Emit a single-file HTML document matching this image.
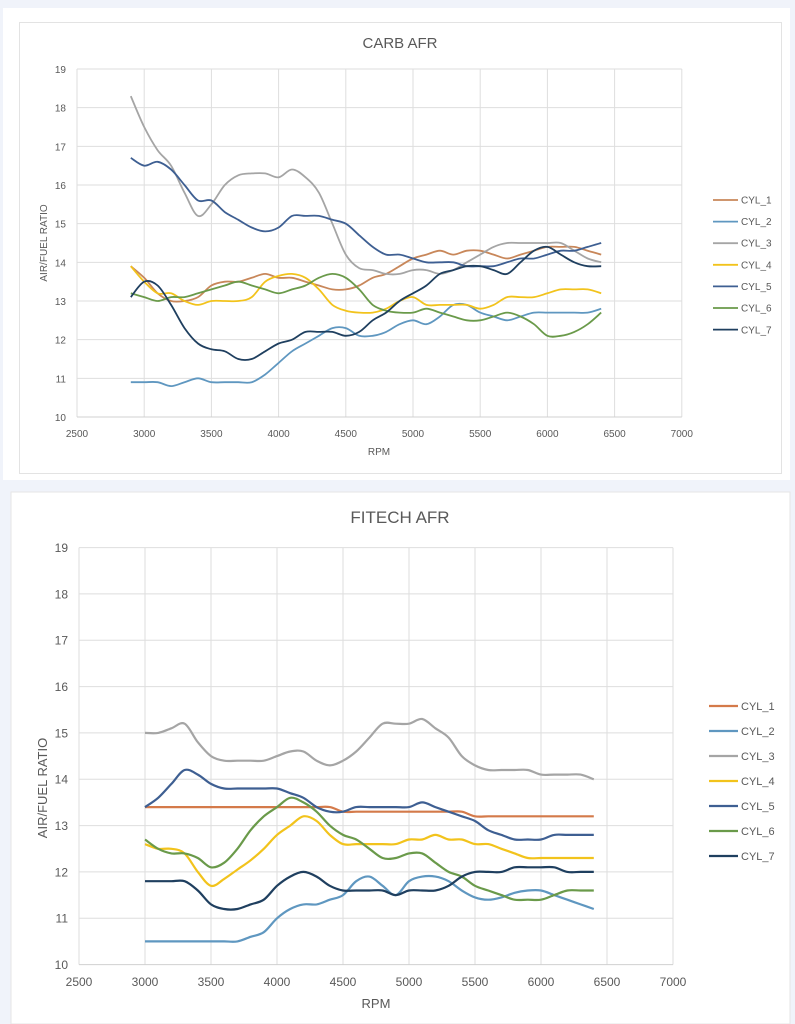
<!DOCTYPE html>
<html><head><meta charset="utf-8">
<style>
html,body{margin:0;padding:0;background:#f0f3fa;}
body{width:795px;height:1024px;overflow:hidden;position:relative;font-family:"Liberation Sans",sans-serif;}
svg{position:absolute;left:0;top:0;}
text{font-family:"Liberation Sans",sans-serif;fill:#595959;}
</style></head><body>
<svg id="s" width="795" height="1024" viewBox="0 0 795 1024">
<rect x="3" y="8" width="787" height="472" fill="#fff"/>
<rect x="19.5" y="22.5" width="762" height="451" fill="none" stroke="#e3e3e3"/>
<rect x="11" y="492" width="779" height="532" fill="#fff" stroke="#e6e6e6"/>
<g id="grid"></g>
<g id="series"></g>
<!-- top chart text -->
<text x="400" y="48" font-size="15" text-anchor="middle">CARB AFR</text>
<g font-size="10" text-anchor="end">
<text x="66" y="73">19</text><text x="66" y="111.7">18</text><text x="66" y="150.3">17</text><text x="66" y="189">16</text><text x="66" y="227.7">15</text><text x="66" y="266.3">14</text><text x="66" y="305">13</text><text x="66" y="343.7">12</text><text x="66" y="382.3">11</text><text x="66" y="421">10</text>
</g>
<g font-size="10" text-anchor="middle">
<text x="77" y="437">2500</text><text x="144.2" y="437">3000</text><text x="211.4" y="437">3500</text><text x="278.6" y="437">4000</text><text x="345.8" y="437">4500</text><text x="413" y="437">5000</text><text x="480.2" y="437">5500</text><text x="547.4" y="437">6000</text><text x="614.6" y="437">6500</text><text x="681.8" y="437">7000</text>
</g>
<text x="379" y="455" font-size="10" text-anchor="middle">RPM</text>
<text transform="translate(47,243) rotate(-90)" font-size="10" text-anchor="middle">AIR/FUEL RATIO</text>
<g font-size="10">
<text x="741" y="203.5">CYL_1</text><text x="741" y="225">CYL_2</text><text x="741" y="246.5">CYL_3</text><text x="741" y="268.5">CYL_4</text><text x="741" y="290">CYL_5</text><text x="741" y="311.5">CYL_6</text><text x="741" y="333.5">CYL_7</text>
</g>
<!-- bottom chart text -->
<text x="400" y="523" font-size="17" text-anchor="middle">FITECH AFR</text>
<g font-size="12" text-anchor="end">
<text x="68" y="552">19</text><text x="68" y="598.3">18</text><text x="68" y="644.7">17</text><text x="68" y="691">16</text><text x="68" y="737.3">15</text><text x="68" y="783.7">14</text><text x="68" y="830">13</text><text x="68" y="876.3">12</text><text x="68" y="922.7">11</text><text x="68" y="969">10</text>
</g>
<g font-size="12" text-anchor="middle">
<text x="79" y="986">2500</text><text x="145" y="986">3000</text><text x="211" y="986">3500</text><text x="277" y="986">4000</text><text x="343" y="986">4500</text><text x="409" y="986">5000</text><text x="475" y="986">5500</text><text x="541" y="986">6000</text><text x="607" y="986">6500</text><text x="673" y="986">7000</text>
</g>
<text x="376" y="1008" font-size="13" text-anchor="middle">RPM</text>
<text transform="translate(47,788) rotate(-90)" font-size="13" text-anchor="middle">AIR/FUEL RATIO</text>
<g font-size="11">
<text x="741" y="710">CYL_1</text><text x="741" y="735">CYL_2</text><text x="741" y="760">CYL_3</text><text x="741" y="785">CYL_4</text><text x="741" y="810">CYL_5</text><text x="741" y="835">CYL_6</text><text x="741" y="860">CYL_7</text>
</g>
</svg>
<script>
var NS="http://www.w3.org/2000/svg";
function el(p,t,a){var e=document.createElementNS(NS,t);for(var k in a)e.setAttribute(k,a[k]);p.appendChild(e);return e;}
var grid=document.getElementById('grid'),ser=document.getElementById('series');
var C=[{x0:77,xs:67.2/500,y0:69,ys:38.667,lx1:713,lx2:738,ly:200,ld:21.6,w:1.8},
       {x0:79,xs:66/500,y0:547.6,ys:46.333,lx1:709,lx2:738,ly:706,ld:25,w:2.2}];
C.forEach(function(c){
  for(var i=0;i<=9;i++){var x=c.x0+i*500*c.xs;el(grid,'line',{x1:x,x2:x,y1:c.y0,y2:c.y0+9*c.ys,stroke:'#dedede','stroke-width':1});}
  for(var j=0;j<=9;j++){var y=c.y0+j*c.ys;el(grid,'line',{x1:c.x0,x2:c.x0+4500*c.xs,y1:y,y2:y,stroke:j==9?'#d0d0d0':'#dedede','stroke-width':1});}
});
var cols=['#c8875a','#5f97c0','#a5a5a5','#f2c31c','#3e5f92','#6a9a4a','#1f3f5f'];
var cols2=['#d47a4a','#5f97c0','#a5a5a5','#f2c31c','#3e5f92','#6a9a4a','#1f3f5f'];
var T=[
[13.9,13.6,13.2,13.0,13.0,13.1,13.4,13.5,13.5,13.6,13.7,13.6,13.6,13.5,13.4,13.3,13.3,13.4,13.6,13.7,13.9,14.1,14.2,14.3,14.2,14.3,14.3,14.2,14.1,14.2,14.3,14.4,14.4,14.4,14.3,14.2],
[10.9,10.9,10.9,10.8,10.9,11.0,10.9,10.9,10.9,10.9,11.1,11.4,11.7,11.9,12.1,12.3,12.3,12.1,12.1,12.2,12.4,12.5,12.4,12.6,12.9,12.9,12.7,12.6,12.5,12.6,12.7,12.7,12.7,12.7,12.7,12.8],
[18.3,17.5,16.9,16.5,15.8,15.2,15.5,16.0,16.25,16.3,16.3,16.2,16.4,16.2,15.8,15.0,14.2,13.85,13.8,13.7,13.7,13.8,13.8,13.7,13.8,14.0,14.2,14.4,14.5,14.5,14.5,14.5,14.5,14.3,14.1,14.0],
[13.9,13.5,13.2,13.2,13.0,12.9,13.0,13.0,13.0,13.1,13.5,13.65,13.7,13.6,13.3,12.9,12.75,12.7,12.7,12.8,13.0,13.1,12.9,12.9,12.9,12.9,12.8,12.9,13.1,13.1,13.1,13.2,13.3,13.3,13.3,13.2],
[16.7,16.5,16.6,16.4,16.0,15.6,15.6,15.3,15.1,14.9,14.8,14.9,15.2,15.2,15.2,15.1,15.0,14.7,14.4,14.2,14.2,14.1,14.0,14.0,14.0,13.9,13.9,13.9,14.0,14.1,14.1,14.2,14.3,14.3,14.4,14.5],
[13.2,13.1,13.0,13.1,13.1,13.2,13.3,13.4,13.5,13.4,13.3,13.2,13.3,13.4,13.6,13.7,13.6,13.3,12.9,12.75,12.7,12.7,12.8,12.7,12.6,12.5,12.5,12.6,12.7,12.6,12.4,12.1,12.1,12.2,12.4,12.7],
[13.1,13.5,13.4,12.9,12.3,11.9,11.75,11.7,11.5,11.5,11.7,11.9,12.0,12.2,12.2,12.2,12.1,12.2,12.5,12.7,13.0,13.2,13.4,13.7,13.8,13.9,13.9,13.8,13.7,14.0,14.3,14.4,14.2,14.0,13.9,13.9]];
var B=[
[13.4,13.4,13.4,13.4,13.4,13.4,13.4,13.4,13.4,13.4,13.4,13.4,13.4,13.4,13.4,13.3,13.3,13.3,13.3,13.3,13.3,13.3,13.3,13.3,13.3,13.2,13.2,13.2,13.2,13.2,13.2,13.2,13.2,13.2,13.2],
[10.5,10.5,10.5,10.5,10.5,10.5,10.5,10.5,10.6,10.7,11.0,11.2,11.3,11.3,11.4,11.5,11.8,11.9,11.7,11.5,11.8,11.9,11.9,11.8,11.6,11.45,11.4,11.45,11.55,11.6,11.6,11.5,11.4,11.3,11.2],
[15.0,15.0,15.1,15.2,14.8,14.5,14.4,14.4,14.4,14.4,14.5,14.6,14.6,14.4,14.3,14.4,14.6,14.9,15.2,15.2,15.2,15.3,15.1,14.9,14.5,14.3,14.2,14.2,14.2,14.2,14.1,14.1,14.1,14.1,14.0],
[12.6,12.5,12.5,12.4,12.0,11.7,11.85,12.05,12.25,12.5,12.8,13.0,13.2,13.1,12.8,12.6,12.6,12.6,12.6,12.6,12.7,12.7,12.8,12.7,12.7,12.6,12.6,12.5,12.4,12.3,12.3,12.3,12.3,12.3,12.3],
[13.4,13.6,13.9,14.2,14.1,13.9,13.8,13.8,13.8,13.8,13.8,13.7,13.6,13.4,13.3,13.3,13.4,13.4,13.4,13.4,13.4,13.5,13.4,13.3,13.2,13.1,12.9,12.8,12.7,12.7,12.7,12.8,12.8,12.8,12.8],
[12.7,12.5,12.4,12.4,12.3,12.1,12.2,12.5,12.9,13.2,13.4,13.6,13.5,13.3,13.0,12.8,12.7,12.5,12.3,12.3,12.4,12.4,12.2,12.0,11.9,11.7,11.6,11.5,11.4,11.4,11.4,11.5,11.6,11.6,11.6],
[11.8,11.8,11.8,11.8,11.6,11.3,11.2,11.2,11.3,11.4,11.7,11.9,12.0,11.9,11.7,11.6,11.6,11.6,11.6,11.5,11.6,11.6,11.6,11.7,11.9,12.0,12.0,12.0,12.1,12.1,12.1,12.1,12.0,12.0,12.0]];
function path(c,start,vals){
  var p=vals.map(function(v,i){return [c.x0+(start+i*100-2500)*c.xs,c.y0+(19-v)*c.ys];});
  var d='M'+p[0][0].toFixed(1)+','+p[0][1].toFixed(1);
  for(var i=0;i<p.length-1;i++){
    var p0=p[i-1]||p[i],p1=p[i],p2=p[i+1],p3=p[i+2]||p2;
    var c1x=p1[0]+(p2[0]-p0[0])/6,c1y=p1[1]+(p2[1]-p0[1])/6,c2x=p2[0]-(p3[0]-p1[0])/6,c2y=p2[1]-(p3[1]-p1[1])/6;
    d+='C'+c1x.toFixed(1)+','+c1y.toFixed(1)+' '+c2x.toFixed(1)+','+c2y.toFixed(1)+' '+p2[0].toFixed(1)+','+p2[1].toFixed(1);
  }
  return d;
}
[[C[0],2900,T,cols],[C[1],3000,B,cols2]].forEach(function(a){
  var c=a[0];
  a[2].forEach(function(v,k){
    el(ser,'path',{d:path(c,a[1],v),fill:'none',stroke:a[3][k],'stroke-width':c.w,'stroke-linejoin':'round'});
    var y=c.ly+k*c.ld;
    el(ser,'line',{x1:c.lx1,x2:c.lx2,y1:y,y2:y,stroke:a[3][k],'stroke-width':c.w});
  });
});
</script>
</body></html>
